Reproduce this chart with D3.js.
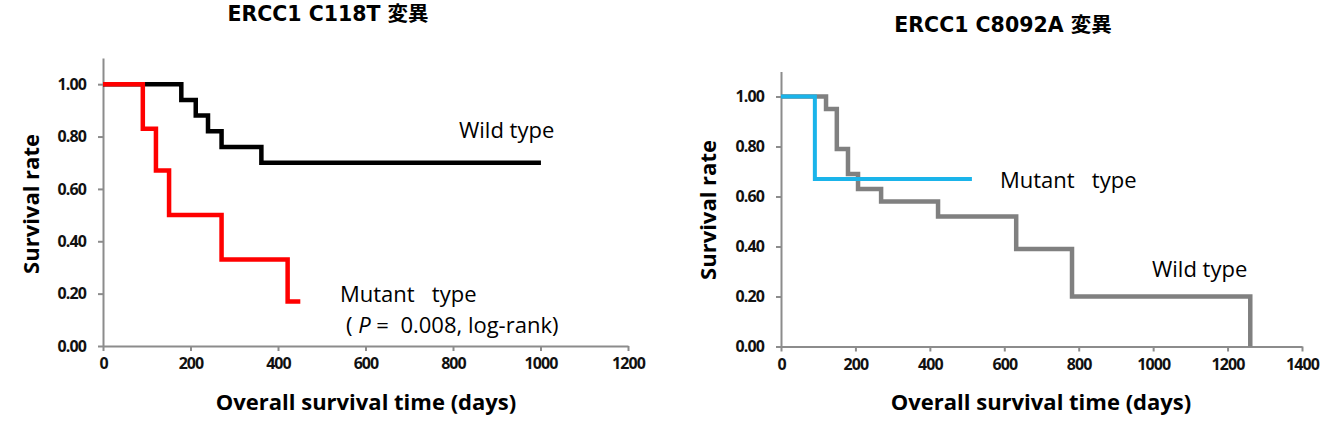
<!DOCTYPE html>
<html>
<head>
<meta charset="utf-8">
<script src="https://cdn.jsdelivr.net/npm/d3@7"></script>
<style>
  body { margin: 0; background: #fff; }
  text { font-family: "Open Sans", "Noto Sans", "Noto Sans CJK JP", sans-serif; }
  .title { font-family: "DejaVu Sans", "Noto Sans CJK JP", sans-serif; font-weight: bold; font-size: 20.5px; }
  .tick text { font-weight: bold; font-size: 16px; letter-spacing: -0.9px; fill: #111; }
  .tick line, .domain { stroke: #8c8c8c; stroke-width: 2; }
</style>
</head>
<body>
<script>
var w = 1335;
var h = 426;

// left chart: ERCC1 C118T
var leftWildDays = [0, 179, 212, 240, 271, 362, 1001];
var leftWildSurv = [1.00, 0.94, 0.88, 0.82, 0.76, 0.70, 0.70];
var leftMutDays = [0, 91, 121, 151, 271, 422, 451];
var leftMutSurv = [1.00, 0.83, 0.67, 0.50, 0.33, 0.17, 0.17];

// right chart: ERCC1 C8092A
var rightWildDays = [0, 121, 150, 180, 207, 269, 422, 632, 782, 1261];
var rightWildSurv = [1.00, 0.95, 0.79, 0.69, 0.63, 0.58, 0.52, 0.39, 0.20, 0.00];
var rightMutDays = [0, 91, 513];
var rightMutSurv = [1.00, 0.67, 0.67];

var yTicks = [0, 0.2, 0.4, 0.6, 0.8, 1.0];
var leftXTicks = [0, 200, 400, 600, 800, 1000, 1200];
var rightXTicks = [0, 200, 400, 600, 800, 1000, 1200, 1400];

var svg = d3.select("body").append("svg")
  .attr("width", w)
  .attr("height", h);

function zip(days, surv) {
  return days.map(function (d, i) { return [d, surv[i]]; });
}

function panel(opt) {
  var x = d3.scaleLinear().domain([0, opt.xMax]).range([opt.x0, opt.x1]);
  var y = d3.scaleLinear().domain([0, 1.1]).range([opt.y0, opt.y1]);

  svg.append("g")
    .attr("transform", "translate(0," + opt.y0 + ")")
    .call(d3.axisBottom(x).tickValues(opt.xTicks).tickSize(5).tickSizeOuter(0).tickPadding(7).tickFormat(d3.format("d")));
  svg.append("g")
    .attr("transform", "translate(" + opt.x0 + ",0)")
    .call(d3.axisLeft(y).tickValues(yTicks).tickSize(5).tickSizeOuter(0).tickPadding(12).tickFormat(d3.format(".2f")));

  var line = d3.line()
    .x(function (d) { return x(d[0]); })
    .y(function (d) { return y(d[1]); })
    .curve(d3.curveStepAfter);

  opt.series.forEach(function (s) {
    svg.append("path")
      .datum(s.data)
      .attr("d", line)
      .attr("fill", "none")
      .attr("stroke", s.color)
      .attr("stroke-width", s.width);
  });

  svg.append("text")
    .attr("class", "title")
    .attr("x", opt.titleX).attr("y", opt.titleY)
    .attr("text-anchor", "middle")
    .text(opt.title);

  svg.append("text")
    .attr("transform", "translate(" + opt.yLabX + "," + opt.yLabY + ") rotate(-90)")
    .attr("text-anchor", "middle")
    .style("font-weight", "bold").style("font-size", "22px")
    .text("Survival rate");

  svg.append("text")
    .attr("x", opt.xLabX).attr("y", 410)
    .attr("text-anchor", "middle")
    .style("font-weight", "bold").style("font-size", "22px")
    .text("Overall survival time (days)");

  opt.notes.forEach(function (n) {
    var t = svg.append("text")
      .attr("x", n.x).attr("y", n.y)
      .style("font-size", "22px")
      .attr("xml:space", "preserve");
    n.parts.forEach(function (p) {
      t.append("tspan").style("font-style", p.italic ? "italic" : null).text(p.t);
    });
  });
}

panel({
  xMax: 1200, x0: 103, x1: 628, y0: 346, y1: 58,
  xTicks: leftXTicks,
  title: "ERCC1 C118T 変異", titleX: 328, titleY: 21,
  yLabX: 39, yLabY: 204, xLabX: 366,
  series: [
    { data: zip(leftWildDays, leftWildSurv), color: "#000", width: 4.5 },
    { data: zip(leftMutDays, leftMutSurv), color: "#ff0000", width: 4.5 }
  ],
  notes: [
    { x: 459, y: 138, parts: [{ t: "Wild type" }] },
    { x: 340, y: 302, parts: [{ t: "Mutant   type" }] },
    { x: 346, y: 333, parts: [{ t: "( " }, { t: "P", italic: true }, { t: " =  0.008, log-rank)" }] }
  ]
});

panel({
  xMax: 1400, x0: 781, x1: 1302, y0: 346.5, y1: 71.5,
  xTicks: rightXTicks,
  title: "ERCC1 C8092A 変異", titleX: 1003, titleY: 32,
  yLabX: 716, yLabY: 210, xLabX: 1041,
  series: [
    { data: zip(rightWildDays, rightWildSurv), color: "#808080", width: 4.5 },
    { data: zip(rightMutDays, rightMutSurv), color: "#1ab4ea", width: 4 }
  ],
  notes: [
    { x: 1000, y: 188, parts: [{ t: "Mutant   type" }] },
    { x: 1152, y: 277, parts: [{ t: "Wild type" }] }
  ]
});
</script>
</body>
</html>
